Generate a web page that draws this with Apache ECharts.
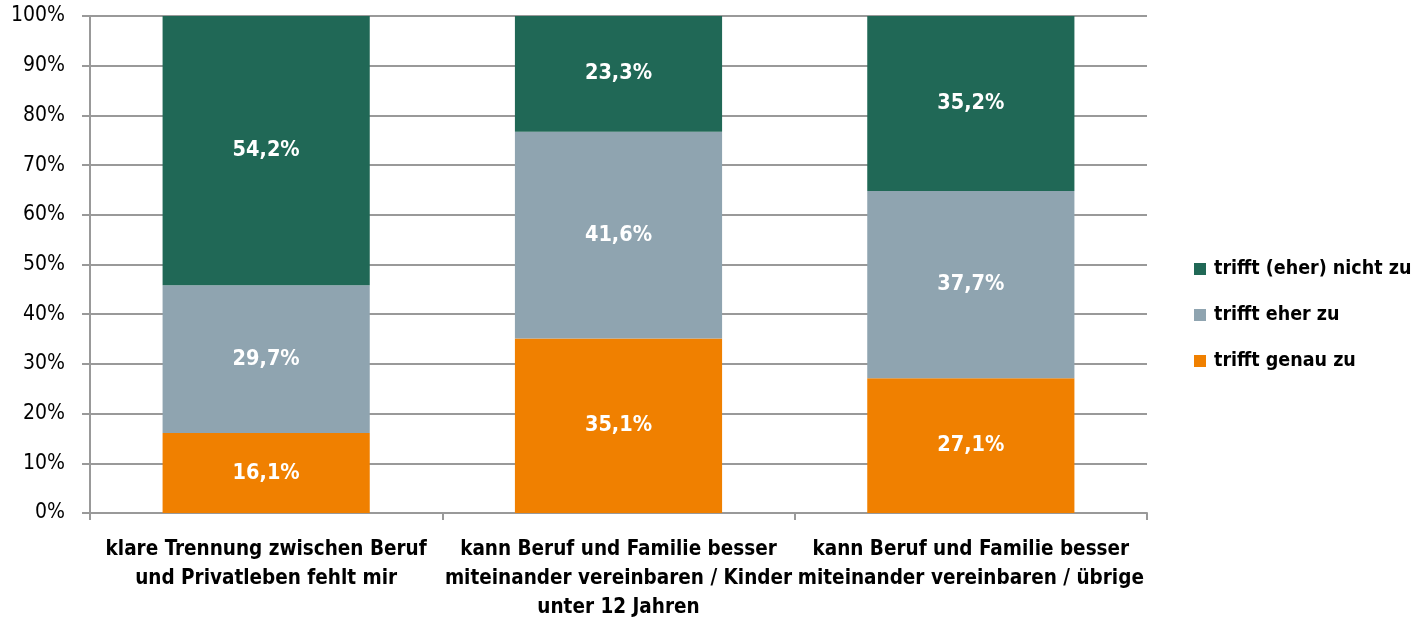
<!DOCTYPE html>
<html>
<head>
<meta charset="utf-8">
<script src="https://cdn.jsdelivr.net/npm/echarts@6/dist/echarts.min.js"></script>
<style>
    html, body { margin: 0; padding: 0; background: #fff; }
    #chart { width: 1416px; height: 618px; }
</style>
</head>
<body>
<div id="chart"></div>
<script>
var categories = [
    'klare Trennung zwischen Beruf\nund Privatleben fehlt mir',
    'kann Beruf und Familie besser\nmiteinander vereinbaren / Kinder\nunter 12 Jahren',
    'kann Beruf und Familie besser\nmiteinander vereinbaren / übrige'
];
var seriesNames = ['trifft genau zu', 'trifft eher zu', 'trifft (eher) nicht zu'];
var genauZu = [16.1, 35.1, 27.1];
var eherZu = [29.7, 41.6, 37.7];
var nichtZu = [54.2, 23.3, 35.2];
var colors = ['#f08000', '#8fa4b0', '#206856'];
var yTicks = [0, 10, 20, 30, 40, 50, 60, 70, 80, 90, 100];

var fontFamily = '"Liberation Sans Narrow", "Arial Narrow", "DejaVu Sans Condensed", sans-serif';

var chart = echarts.init(document.getElementById('chart'));

var item = function (name, data, color) {
    return {
        name: name,
        type: 'bar',
        stack: 'total',
        barWidth: '58.8%',
        data: data,
        itemStyle: { color: color },
        label: {
            show: true,
            position: 'inside',
            color: '#fff',
            fontFamily: fontFamily,
            fontWeight: 'bold',
            fontSize: 21.5,
            formatter: function (p) {
                return p.value.toFixed(1).replace('.', ',') + '%';
            }
        }
    };
};

var option = {
    animation: false,
    textStyle: { fontFamily: fontFamily },
    grid: {
        left: 90,
        right: 269,
        top: 16,
        bottom: 105,
        containLabel: false,
        outerBoundsMode: 'none'
    },
    legend: {
        orient: 'vertical',
        left: 1189,
        top: 254,
        itemWidth: 12,
        itemHeight: 12,
        itemGap: 26,
        data: [seriesNames[2], seriesNames[1], seriesNames[0]],
        textStyle: {
            color: '#000',
            fontFamily: fontFamily,
            fontWeight: 'bold',
            fontSize: 19.5,
            padding: [0, 0, 0, 3]
        },
        icon: 'rect'
    },
    xAxis: {
        type: 'category',
        data: categories,
        axisLine: { show: true, lineStyle: { color: '#999', width: 2 } },
        axisTick: { show: true, length: 7, lineStyle: { color: '#999', width: 2 } },
        axisLabel: {
            color: '#000',
            fontFamily: fontFamily,
            fontWeight: 'bold',
            fontSize: 20.5,
            lineHeight: 29,
            margin: 22,
            interval: 0
        }
    },
    yAxis: {
        type: 'value',
        min: yTicks[0],
        max: yTicks[yTicks.length - 1],
        interval: 10,
        axisLine: { show: true, lineStyle: { color: '#999', width: 2 } },
        axisTick: { show: true, length: 8, lineStyle: { color: '#999', width: 2 } },
        splitLine: { show: true, lineStyle: { color: '#999', width: 2 } },
        axisLabel: {
            color: '#000',
            fontFamily: fontFamily,
            fontSize: 21,
            margin: 25,
            formatter: '{value}%'
        }
    },
    series: [
        item(seriesNames[0], genauZu, colors[0]),
        item(seriesNames[1], eherZu, colors[1]),
        item(seriesNames[2], nichtZu, colors[2])
    ]
};

chart.setOption(option);

window.addEventListener('resize', function () {
    chart.resize();
});
</script>
</body>
</html>
